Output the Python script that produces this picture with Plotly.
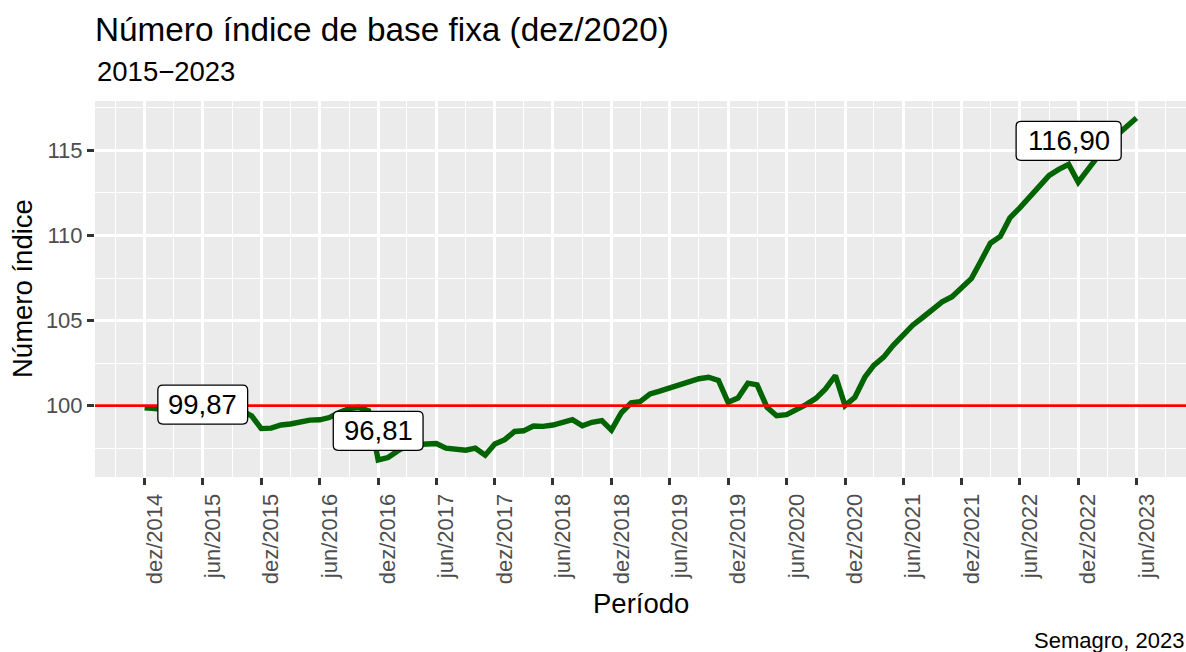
import pandas as pd
import plotly.graph_objects as go

# ---------------- data ----------------
start_month = "2014-12-01"
index_values = [
    99.87, 99.80, 99.78, 99.82, 99.85, 99.90, 99.88, 99.85, 99.90, 99.85, 99.70, 99.40,
    98.65, 98.68, 98.86, 98.92, 99.05, 99.15, 99.17, 99.30, 99.60, 99.82, 99.90, 99.70,
    96.81, 96.95, 97.35, 97.62, 97.72, 97.75, 97.77, 97.50, 97.40, 97.38, 97.50, 97.09,
    97.74, 98.00, 98.48, 98.52, 98.80, 98.78, 98.86, 98.98, 99.17, 98.82, 99.02, 99.12,
    98.56, 99.58, 100.16, 100.24, 100.69, 100.85, 101.05, 101.24, 101.42, 101.58, 101.67, 101.48,
    100.20, 100.45, 101.32, 101.22, 99.90, 99.41, 99.47, 99.75, 100.06, 100.43, 100.98, 101.77,
    100.00, 100.49, 101.67, 102.36, 102.85, 103.54, 104.13, 104.73, 105.18, 105.61, 106.10, 106.40,
    106.93, 107.48, 108.56, 109.55, 109.94, 111.03, 111.62, 112.27, 112.95, 113.53, 113.88, 114.18,
    113.13, 113.88, 114.70, 115.35, 115.90, 116.40, 116.90,
]
tick_labels = [
    "dez/2014", "jun/2015", "dez/2015", "jun/2016", "dez/2016", "jun/2017",
    "dez/2017", "jun/2018", "dez/2018", "jun/2019", "dez/2019", "jun/2020",
    "dez/2020", "jun/2021", "dez/2021", "jun/2022", "dez/2022", "jun/2023",
]
minor_tick_months = [
    "2014-09-01", "2015-03-01", "2015-09-01", "2016-03-01", "2016-09-01", "2017-03-01",
    "2017-09-01", "2018-03-01", "2018-09-01", "2019-03-01", "2019-09-01", "2020-03-01",
    "2020-09-01", "2021-03-01", "2021-09-01", "2022-03-01", "2022-09-01", "2023-03-01",
    "2023-09-01",
]
y_major = [100, 105, 110, 115]
y_minor = [97.5, 102.5, 107.5, 112.5, 117.5]
reference_level = 100

title = "Número índice de base fixa (dez/2020)"
subtitle = "2015−2023"
caption = "Semagro, 2023"
x_title = "Período"
y_title = "Número índice"

# ---------------- derived ----------------
dates = pd.date_range(start_month, periods=len(index_values), freq="MS")
df = pd.DataFrame({"date": dates, "value": index_values})

pt_month = {"jan": 1, "fev": 2, "mar": 3, "abr": 4, "mai": 5, "jun": 6,
            "jul": 7, "ago": 8, "set": 9, "out": 10, "nov": 11, "dez": 12}
tick_dates = [pd.Timestamp(int(t.split("/")[1]), pt_month[t.split("/")[0]], 1) for t in tick_labels]

def fmt(v):
    return f"{v:.2f}".replace(".", ",")

# ggplot-like 5% expansion
t0, t1 = df.date.min().value, df.date.max().value
dx = (t1 - t0) * 0.05
x_range = [pd.Timestamp(t0 - dx), pd.Timestamp(t1 + dx)]
v0, v1 = min(index_values), max(index_values)
dy = (v1 - v0) * 0.05
y_range = [v0 - dy, v1 + dy]

GREY_TXT = "#4D4D4D"
FONT = "Liberation Sans, Arial, sans-serif"
LABEL_SIZE = 27.5

fig = go.Figure()
fig.add_trace(go.Scatter(
    x=df.date, y=df.value, mode="lines",
    line=dict(color="#006400", width=5.4),
    hoverinfo="skip", showlegend=False,
))

fig.add_shape(type="line", xref="paper", x0=0, x1=1, yref="y",
              y0=reference_level, y1=reference_level,
              line=dict(color="#FF0000", width=2.7), layer="above")


def rounded_box(w, h, r):
    a, b = w / 2, h / 2
    return (f"M {-a + r},{-b} L {a - r},{-b} Q {a},{-b} {a},{-b + r} "
            f"L {a},{b - r} Q {a},{b} {a - r},{b} L {-a + r},{b} "
            f"Q {-a},{b} {-a},{b - r} L {-a},{-b + r} Q {-a},{-b} {-a + r},{-b} Z")


def text_em(s):
    return sum(0.278 if ch in ",." else 0.556 for ch in s)


# value labels (first, min, max) with ggrepel-like offsets
i_first = 0
i_min = int(df.value.idxmin())
i_max = int(df.value.idxmax())
label_specs = [
    (i_first, pd.DateOffset(months=6), 0.19),
    (i_min, pd.DateOffset(months=0), 1.71),
    (i_max, pd.DateOffset(months=-7), -1.34),
]
for idx, off, yoff in label_specs:
    lx = df.date[idx] + off
    ly = df.value[idx] + yoff
    txt = fmt(df.value[idx])
    w = text_em(txt) * LABEL_SIZE + 21
    fig.add_shape(type="path", xref="x", yref="y",
                  xsizemode="pixel", ysizemode="pixel",
                  xanchor=lx.strftime("%Y-%m-%d"), yanchor=ly,
                  path=rounded_box(w, 39, 5),
                  fillcolor="white", line=dict(color="black", width=1.3),
                  layer="above")
    fig.add_annotation(
        x=lx, y=ly, xref="x", yref="y", text=txt,
        showarrow=False, xanchor="center", yanchor="middle",
        font=dict(size=LABEL_SIZE, color="black", family=FONT),
    )

PLOT_H = 652 - 101 - 175
def py(pix):
    return (477 - pix) / PLOT_H

fig.add_annotation(text=subtitle, xref="paper", yref="paper", x=0, y=py(71),
                   xanchor="left", yanchor="middle", showarrow=False,
                   font=dict(size=27.5, color="black", family=FONT))
fig.add_annotation(text=y_title, xref="paper", yref="paper", x=(22 - 95) / 1091, y=0.5,
                   xanchor="center", yanchor="middle", textangle=-90, showarrow=False,
                   font=dict(size=27.5, color="black", family=FONT))
fig.add_annotation(text=x_title, xref="paper", yref="paper", x=0.5, y=py(603),
                   xanchor="center", yanchor="middle", showarrow=False,
                   font=dict(size=27.5, color="black", family=FONT))
fig.add_annotation(text=caption, xref="paper", yref="paper", x=1, y=py(640),
                   xanchor="right", yanchor="middle", showarrow=False,
                   font=dict(size=22, color="black", family=FONT))

fig.update_layout(
    width=1186, height=652,
    margin=dict(l=95, r=0, t=101, b=175, pad=0),
    paper_bgcolor="white", plot_bgcolor="#EBEBEB",
    font=dict(family=FONT),
    title=dict(text=title, x=0, xref="paper", xanchor="left",
               y=1 - 29 / 652, yref="container", yanchor="middle",
               font=dict(size=33.3, color="black", family=FONT)),
    showlegend=False,
)
fig.update_xaxes(
    range=x_range, type="date",
    tickmode="array", tickvals=tick_dates, ticktext=tick_labels,
    tickangle=-90, ticklabelshift=10,
    tickfont=dict(size=22, color=GREY_TXT, family=FONT),
    ticks="outside", ticklen=7, tickwidth=2.7, tickcolor="#333333",
    showgrid=True, gridcolor="white", gridwidth=2.7,
    minor=dict(tickmode="array", tickvals=minor_tick_months, showgrid=True,
               gridcolor="white", gridwidth=1.3, ticks=""),
    zeroline=False, showline=False, fixedrange=True,
)
fig.update_yaxes(
    range=y_range,
    tickmode="array", tickvals=y_major, ticktext=[str(v) for v in y_major],
    tickfont=dict(size=22, color=GREY_TXT, family=FONT),
    ticks="outside", ticklen=7, tickwidth=2.7, tickcolor="#333333",
    showgrid=True, gridcolor="white", gridwidth=2.7,
    minor=dict(tickmode="array", tickvals=y_minor, showgrid=True,
               gridcolor="white", gridwidth=1.3, ticks=""),
    zeroline=False, showline=False, fixedrange=True,
)

fig.write_html("out.html", config={"displayModeBar": False},
               post_script="document.body.style.margin='0';document.body.style.overflow='hidden';")
